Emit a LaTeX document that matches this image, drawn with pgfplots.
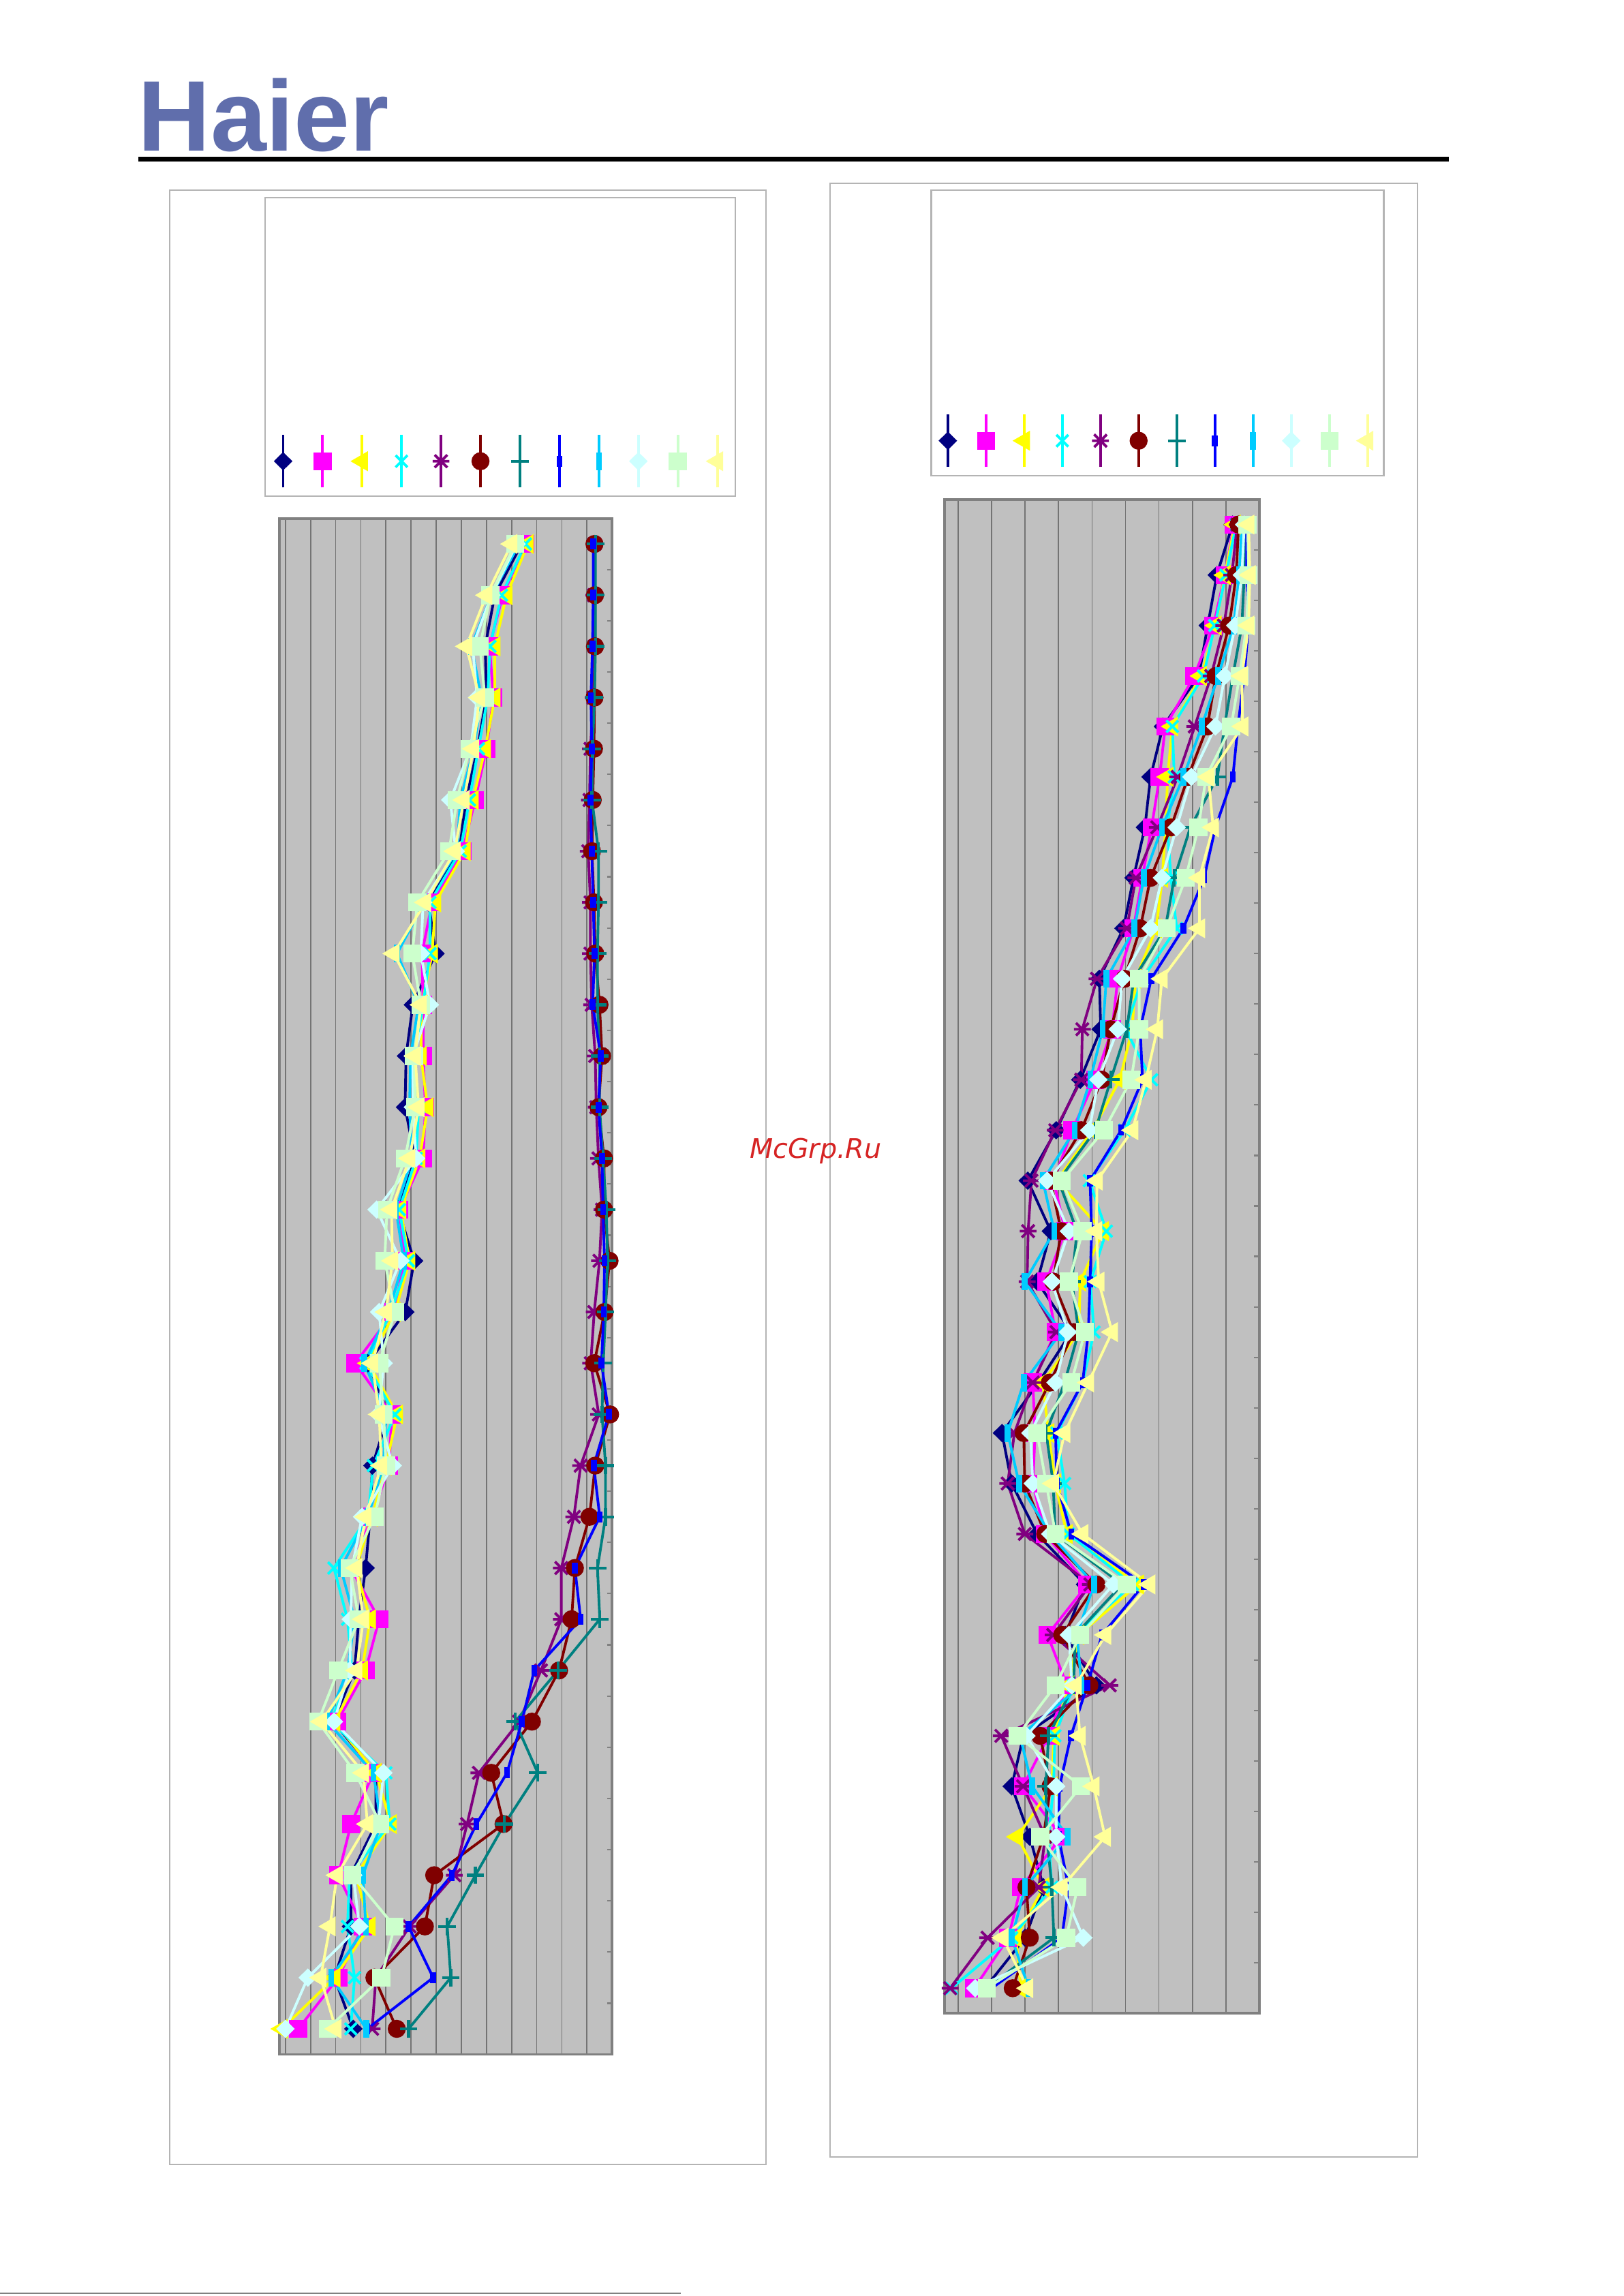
\documentclass[border=0pt]{standalone}
\usepackage{pgfplots}
\pgfplotsset{compat=1.18}
\usepackage{pgfplotstable}
\usepackage{fontspec}
\newfontfamily\logofont{Liberation Sans}
\newfontfamily\wmfont{DejaVu Sans}

\definecolor{navyc}{HTML}{000080}
\definecolor{magc}{HTML}{FF00FF}
\definecolor{yelc}{HTML}{FFFF00}
\definecolor{cyanc}{HTML}{00FFFF}
\definecolor{purpc}{HTML}{800080}
\definecolor{maroonc}{HTML}{800000}
\definecolor{tealc}{HTML}{008080}
\definecolor{bluec}{HTML}{0000FF}
\definecolor{dsbc}{HTML}{00CCFF}
\definecolor{lcc}{HTML}{CCFFFF}
\definecolor{lgc}{HTML}{CCFFCC}
\definecolor{lyc}{HTML}{FFFF99}
\definecolor{axbg}{HTML}{C0C0C0}
\definecolor{axborder}{HTML}{808080}
\definecolor{gridc}{HTML}{747474}
\definecolor{boxc}{HTML}{B4B4B4}
\definecolor{logoc}{RGB}{96,110,172}
\definecolor{wmc}{RGB}{214,36,36}

\pgfdeclareplotmark{xast}{%
  \pgfpathmoveto{\pgfqpoint{-0.75\pgfplotmarksize}{-0.75\pgfplotmarksize}}%
  \pgfpathlineto{\pgfqpoint{0.75\pgfplotmarksize}{0.75\pgfplotmarksize}}%
  \pgfpathmoveto{\pgfqpoint{-0.75\pgfplotmarksize}{0.75\pgfplotmarksize}}%
  \pgfpathlineto{\pgfqpoint{0.75\pgfplotmarksize}{-0.75\pgfplotmarksize}}%
  \pgfpathmoveto{\pgfqpoint{-\pgfplotmarksize}{0pt}}%
  \pgfpathlineto{\pgfqpoint{\pgfplotmarksize}{0pt}}%
  \pgfusepathqstroke}
\pgfdeclareplotmark{vbarS}{%
  \pgfpathrectangle{\pgfpoint{-0.4mm}{-0.75mm}}{\pgfpoint{0.8mm}{1.5mm}}%
  \pgfusepathqfill}
\pgfdeclareplotmark{vbarL}{%
  \pgfpathrectangle{\pgfpoint{-0.4mm}{-1.2mm}}{\pgfpoint{0.8mm}{2.4mm}}%
  \pgfusepathqfill}

\pgfplotsset{
  s1/.style={color=navyc, mark=diamond*, mark size=1.0mm, mark options={xscale=1.35}},
  s2/.style={color=magc, mark=square*, mark size=1.05mm},
  s3/.style={color=yelc, mark=triangle*, mark size=1.22mm, mark options={rotate=90}},
  s4/.style={color=cyanc, mark=x, mark size=1.15mm, mark options={line width=0.36mm}},
  s5/.style={color=purpc, mark=xast, mark size=1.15mm, mark options={line width=0.36mm}},
  s6/.style={color=maroonc, mark=*, mark size=1.05mm},
  s7/.style={color=tealc, mark=+, mark size=1.2mm, mark options={line width=0.4mm}},
  s8/.style={color=bluec, mark=vbarS},
  s9/.style={color=dsbc, mark=vbarL},
  s10/.style={color=lcc, mark=diamond*, mark size=1.0mm, mark options={xscale=1.35}},
  s11/.style={color=lgc, mark=square*, mark size=1.05mm},
  s12/.style={color=lyc, mark=triangle*, mark size=1.22mm, mark options={rotate=90}},
  chartax/.style={
    scale only axis, clip=false, anchor=north west,
    ymin=-30.5, ymax=-0.5,
    ytick={-30.5,-29.5,...,-0.5}, ytick pos=right, tick align=inside,
    major tick length=0.7mm,
    xticklabels={}, yticklabels={},
    xtick style={draw=none},
    ytick style={color=axborder, line width=0.2mm},
    xmajorgrids,
    major grid style={color=gridc, line width=0.16mm},
    axis background/.style={fill=axbg},
    axis line style={color=axborder, line width=0.36mm},
    every axis plot/.append style={line width=0.36mm},
    legend columns=12,
    legend style={draw=none, fill=none, inner sep=0pt, column sep=0pt, row sep=0pt,
      nodes={inner sep=0pt}, anchor=center},
  },
}

\pgfplotstableread{
r s1 s2 s3 s4 s5 s6 s7 s8 s9 s10 s11 s12
1 9.4 9.55 9.65 9.55 12.3 12.3 12.34 12.25 9.3 9.2 9.15 9.0
2 8.33 8.65 8.8 8.6 12.28 12.32 12.34 12.25 8.2 8.2 8.16 8.0
3 7.95 8.12 8.33 8.14 12.3 12.32 12.34 12.22 7.4 7.45 7.74 7.2
4 8.0 8.28 8.33 8.05 12.25 12.3 12.3 12.16 7.8 7.63 7.94 7.72
5 7.64 8.0 7.95 7.68 12.14 12.28 12.22 12.19 7.5 7.37 7.32 7.48
6 7.19 7.55 7.46 7.32 12.1 12.23 12.2 12.14 6.96 6.56 6.83 7.1
7 6.92 7.05 7.14 6.96 12.05 12.2 12.46 12.19 6.83 6.78 6.51 6.74
8 5.7 5.84 5.97 5.75 12.14 12.28 12.46 12.25 5.52 5.48 5.25 5.57
9 5.97 5.43 5.84 5.75 12.14 12.33 12.42 12.3 4.44 5.39 5.05 4.31
10 5.07 5.48 5.43 5.48 12.19 12.5 12.42 12.23 5.3 5.75 5.39 5.39
11 4.8 5.48 5.39 5.12 12.33 12.6 12.5 12.55 4.98 5.07 5.12 5.16
12 4.76 5.57 5.66 5.3 12.37 12.46 12.5 12.46 4.94 5.07 5.16 5.3
13 5.16 5.48 5.34 5.2 12.46 12.68 12.64 12.6 5.03 5.2 4.76 4.94
14 4.49 4.53 4.58 4.53 12.6 12.68 12.77 12.64 4.4 3.63 4.04 4.22
15 5.12 4.76 4.94 4.89 12.5 12.9 12.82 12.7 4.71 4.58 3.95 4.26
16 4.77 4.3 4.36 4.2 12.29 12.7 12.74 12.67 4.1 3.73 4.36 4.0
17 3.28 2.78 3.3 3.2 12.15 12.29 12.65 12.58 3.14 3.91 3.73 3.46
18 4.1 4.23 4.45 4.36 12.47 12.92 12.6 12.87 4.0 3.7 3.91 3.73
19 3.46 4.13 4.0 3.5 11.75 12.33 12.74 12.27 3.9 4.27 4.0 3.82
20 3.37 3.45 3.45 3.28 11.48 12.1 12.74 12.51 3.28 3.05 3.55 3.19
21 3.19 2.6 2.8 1.93 10.98 11.52 12.42 11.52 2.2 2.65 2.56 2.83
22 2.92 3.73 3.37 2.47 10.98 11.39 12.51 11.75 2.75 2.6 2.92 3.1
23 2.75 3.19 3.05 2.65 10.17 10.89 10.85 9.9 2.47 2.56 2.1 2.83
24 1.9 2.06 1.95 1.8 9.3 9.81 9.14 9.41 1.66 1.93 1.3 1.43
25 3.6 3.5 3.6 4.0 7.7 8.19 10.04 8.82 3.5 3.9 2.78 3.1
26 3.6 2.61 4.2 4.15 7.23 8.68 8.72 7.6 3.8 3.7 3.78 3.26
27 2.6 2.1 2.8 2.55 6.72 5.92 7.56 6.62 3.08 2.7 2.66 2.05
28 2.61 3.08 3.36 2.47 4.94 5.55 6.44 4.9 3.2 2.94 4.34 1.77
29 1.95 2.1 1.96 2.75 3.6 3.54 6.58 5.88 1.82 0.89 3.82 1.4
30 2.7 0.51 -0.14 2.6 3.45 4.43 4.9 3.26 3.22 0.0 1.68 2.0
}\leftdata

\pgfplotstableread{
r s1 s2 s3 s4 s5 s6 s7 s8 s9 s10 s11 s12
1 8.2 8.24 8.27 8.31 8.34 8.38 8.55 8.62 8.48 8.55 8.65 8.68
2 7.73 7.97 7.97 8.0 8.18 8.31 8.55 8.62 8.4 8.48 8.68 8.72
3 7.46 7.63 7.7 7.67 7.94 8.1 8.48 8.68 8.24 8.28 8.62 8.68
4 7.19 7.06 7.26 7.33 7.56 7.7 8.21 8.55 7.77 7.97 8.41 8.48
5 6.12 6.19 6.4 6.4 7.07 7.45 7.96 8.36 7.28 7.69 8.16 8.5
6 5.75 6.02 6.26 6.46 6.56 6.87 7.75 8.21 6.73 6.97 7.41 7.48
7 5.58 5.78 6.2 6.25 5.95 6.36 6.94 7.69 6.09 6.53 7.18 7.62
8 5.24 5.5 6.1 6.36 5.31 5.75 6.46 7.35 5.55 6.09 6.8 7.21
9 4.94 5.24 5.92 6.53 5.04 5.44 6.19 6.73 5.27 5.75 6.23 7.21
10 4.22 4.77 5.3 5.5 4.15 4.97 5.25 5.77 4.43 4.9 5.41 6.09
11 4.26 4.6 5.2 5.0 3.71 4.56 5.04 5.44 4.32 4.77 5.41 5.95
12 3.65 4.09 4.83 5.78 3.68 4.29 4.56 5.51 3.95 4.19 5.17 5.61
13 2.93 3.41 4.02 4.97 2.9 3.68 4.1 4.87 3.48 3.92 4.36 5.21
14 2.08 2.85 2.95 3.92 2.19 2.76 3.0 3.94 2.53 2.66 3.1 4.15
15 2.77 3.2 4.33 4.43 2.09 3.08 3.55 3.99 2.87 3.31 3.72 4.13
16 2.36 2.63 3.65 3.95 2.06 2.84 3.4 3.94 1.99 2.8 3.31 4.2
17 3.38 2.91 3.6 4.06 2.94 3.45 3.6 3.89 3.08 3.28 3.79 4.6
18 2.4 2.23 2.53 3.72 2.23 2.74 3.18 3.72 1.96 2.91 3.38 3.89
19 1.31 2.3 2.7 2.95 1.68 1.96 2.63 2.91 1.48 2.16 2.36 3.18
20 1.6 2.23 2.9 3.18 1.48 1.99 2.84 2.95 1.82 2.23 2.63 2.84
21 2.36 2.6 3.25 3.3 1.99 2.6 2.9 3.38 2.75 2.75 2.91 3.72
22 3.79 3.86 5.38 5.21 3.95 4.13 4.9 5.55 4.06 4.64 5.04 5.72
23 3.2 2.67 3.6 3.5 2.84 3.11 3.5 4.3 3.55 3.31 3.65 4.4
24 4.13 3.25 3.3 3.45 4.53 3.92 3.45 3.86 3.69 3.4 2.91 3.52
25 1.95 2.7 2.86 2.89 1.29 2.45 2.7 3.37 1.85 2.04 1.77 3.64
26 1.6 1.94 2.8 2.85 1.94 2.76 2.62 3.03 2.21 2.93 3.67 4.05
27 2.14 3.1 1.77 2.7 2.6 2.55 2.65 3.0 3.27 2.93 2.45 4.39
28 2.55 1.87 2.55 2.8 2.41 2.04 2.8 3.3 2.0 3.1 3.57 3.1
29 2.0 1.5 1.73 1.6 0.88 2.14 2.86 3.1 1.6 3.74 3.23 1.33
30 0.8 0.48 1.87 -0.2 -0.24 1.63 0.85 1.0 2.11 0.51 0.85 2.07
}\rightdata

\begin{document}
\begin{tikzpicture}
\begin{scope}[x=0.2mm,y=-0.2mm]
  \node[anchor=base west, inner sep=0pt, text=logoc,
        font=\logofont\bfseries\fontsize{39}{42}\selectfont] at (94,103.2) {Haier};
  \draw[line width=0.62mm] (94.5,108.6) -- (989.4,108.6);
  \draw[boxc, line width=0.2mm] (116,130) rectangle (523,1478);
  \draw[boxc, line width=0.2mm] (181,135) rectangle (502,339);
  \draw[boxc, line width=0.2mm] (567,125) rectangle (968,1473);
  \draw[boxc, line width=0.2mm] (636,130) rectangle (945,325);
  \draw[gray, line width=0.2mm] (0,1566) -- (465,1566);
\end{scope}

\begin{axis}[chartax, at={(38.2mm,-70.8mm)}, width=45.4mm, height=209.8mm,
  xmin=-0.23, xmax=13, xtick={0,...,13},
  legend style={at={(0.6674,1.0372)}},
  legend image code/.code={%
    \path (-2.34mm,-3.6mm) (2.34mm,3.6mm);
    \draw[#1] (0,-3.6mm) -- (0,3.6mm);
    \draw[#1] plot coordinates {(0,0)};}]
\addplot[s1] table[x=s1,y expr=-\thisrow{r}]{\leftdata}; \addlegendentry{\mbox{}}
\addplot[s2] table[x=s2,y expr=-\thisrow{r}]{\leftdata}; \addlegendentry{\mbox{}}
\addplot[s3] table[x=s3,y expr=-\thisrow{r}]{\leftdata}; \addlegendentry{\mbox{}}
\addplot[s4] table[x=s4,y expr=-\thisrow{r}]{\leftdata}; \addlegendentry{\mbox{}}
\addplot[s5] table[x=s5,y expr=-\thisrow{r}]{\leftdata}; \addlegendentry{\mbox{}}
\addplot[s6] table[x=s6,y expr=-\thisrow{r}]{\leftdata}; \addlegendentry{\mbox{}}
\addplot[s7] table[x=s7,y expr=-\thisrow{r}]{\leftdata}; \addlegendentry{\mbox{}}
\addplot[s8] table[x=s8,y expr=-\thisrow{r}]{\leftdata}; \addlegendentry{\mbox{}}
\addplot[s9] table[x=s9,y expr=-\thisrow{r}]{\leftdata}; \addlegendentry{\mbox{}}
\addplot[s10] table[x=s10,y expr=-\thisrow{r}]{\leftdata}; \addlegendentry{\mbox{}}
\addplot[s11] table[x=s11,y expr=-\thisrow{r}]{\leftdata}; \addlegendentry{\mbox{}}
\addplot[s12] table[x=s12,y expr=-\thisrow{r}]{\leftdata}; \addlegendentry{\mbox{}}
\end{axis}

\begin{axis}[chartax, at={(129mm,-68.2mm)}, width=43mm, height=206.8mm,
  xmin=-0.41, xmax=9, xtick={0,...,9},
  legend style={at={(0.6814,1.0387)}},
  legend image code/.code={%
    \path (-2.25mm,-3.6mm) (2.25mm,3.6mm);
    \draw[#1] (0,-3.6mm) -- (0,3.6mm);
    \draw[#1] plot coordinates {(0,0)};}]
\addplot[s1] table[x=s1,y expr=-\thisrow{r}]{\rightdata}; \addlegendentry{\mbox{}}
\addplot[s2] table[x=s2,y expr=-\thisrow{r}]{\rightdata}; \addlegendentry{\mbox{}}
\addplot[s3] table[x=s3,y expr=-\thisrow{r}]{\rightdata}; \addlegendentry{\mbox{}}
\addplot[s4] table[x=s4,y expr=-\thisrow{r}]{\rightdata}; \addlegendentry{\mbox{}}
\addplot[s5] table[x=s5,y expr=-\thisrow{r}]{\rightdata}; \addlegendentry{\mbox{}}
\addplot[s6] table[x=s6,y expr=-\thisrow{r}]{\rightdata}; \addlegendentry{\mbox{}}
\addplot[s7] table[x=s7,y expr=-\thisrow{r}]{\rightdata}; \addlegendentry{\mbox{}}
\addplot[s8] table[x=s8,y expr=-\thisrow{r}]{\rightdata}; \addlegendentry{\mbox{}}
\addplot[s9] table[x=s9,y expr=-\thisrow{r}]{\rightdata}; \addlegendentry{\mbox{}}
\addplot[s10] table[x=s10,y expr=-\thisrow{r}]{\rightdata}; \addlegendentry{\mbox{}}
\addplot[s11] table[x=s11,y expr=-\thisrow{r}]{\rightdata}; \addlegendentry{\mbox{}}
\addplot[s12] table[x=s12,y expr=-\thisrow{r}]{\rightdata}; \addlegendentry{\mbox{}}
\end{axis}

\begin{scope}[x=0.2mm,y=-0.2mm]
  \node[anchor=base, inner sep=0pt, text=wmc,
        font=\wmfont\itshape\fontsize{10.5}{12}\selectfont] at (557,791) {McGrp.Ru};
  \pgfresetboundingbox
  \path[use as bounding box] (0,0) rectangle (1109,1568);
\end{scope}
\end{tikzpicture}
\end{document}
